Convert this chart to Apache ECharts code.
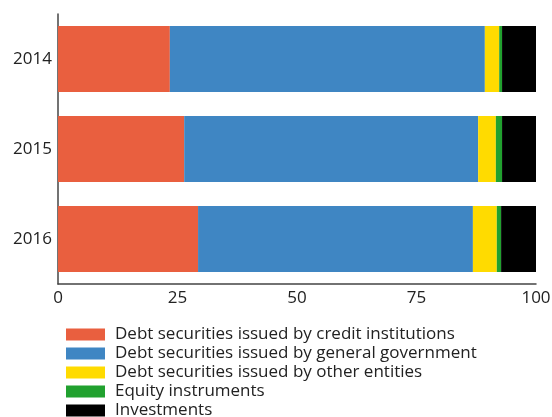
<!DOCTYPE html>
<html>
<head>
<meta charset="utf-8">
<script src="https://cdn.jsdelivr.net/npm/echarts@6/dist/echarts.min.js"></script>
<style>
  html, body { margin: 0; padding: 0; background: #fff; }
  #chart { width: 552px; height: 417px; }
</style>
</head>
<body>
<div id="chart"></div>
<script>
const years = ['2014', '2015', '2016'];
const seriesNames = [
  'Debt securities issued by credit institutions',
  'Debt securities issued by general government',
  'Debt securities issued by other entities',
  'Equity instruments',
  'Investments'
];
const creditInstitutions = [23.4, 26.4, 29.3];
const generalGovernment = [65.9, 61.5, 57.5];
const otherEntities = [3.0, 3.7, 5.0];
const equityInstruments = [0.6, 1.3, 0.9];
const investments = [7.1, 7.1, 7.3];
const xTicks = [0, 25, 50, 75, 100];

const colors = ['#e95f3f', '#3f86c3', '#ffdb00', '#21a12f', '#000000'];
const values = [creditInstitutions, generalGovernment, otherEntities, equityInstruments, investments];
const font = '"Open Sans", "Noto Sans", sans-serif';

const chart = echarts.init(document.getElementById('chart'));

const option = {
  animation: false,
  color: colors,
  grid: { left: 58, right: 16, top: 14, bottom: 133, containLabel: false, outerBoundsMode: 'none' },
  legend: {
    orient: 'vertical',
    left: 61,
    top: 321,
    height: 200,
    itemWidth: 39,
    itemHeight: 12,
    itemGap: 2,
    icon: 'rect',
    textStyle: { fontFamily: font, fontSize: 17, color: '#222', padding: [0, 0, 0, 5] },
    data: seriesNames
  },
  xAxis: {
    type: 'value',
    min: xTicks[0],
    max: xTicks[xTicks.length - 1],
    interval: 25,
    axisLine: { show: true, lineStyle: { color: '#444', width: 1.5 } },
    axisTick: { show: false },
    splitLine: { show: false },
    axisLabel: { fontFamily: font, fontSize: 17, color: '#222', margin: 6 }
  },
  yAxis: {
    type: 'category',
    inverse: true,
    data: years,
    axisLine: { show: true, lineStyle: { color: '#444', width: 1.5 } },
    axisTick: { show: false },
    axisLabel: { fontFamily: font, fontSize: 17, color: '#222', margin: 6 }
  },
  series: seriesNames.map((name, i) => ({
    name: name,
    type: 'bar',
    stack: 'total',
    barWidth: 66,
    data: values[i]
  }))
};

chart.setOption(option);
</script>
</body>
</html>
